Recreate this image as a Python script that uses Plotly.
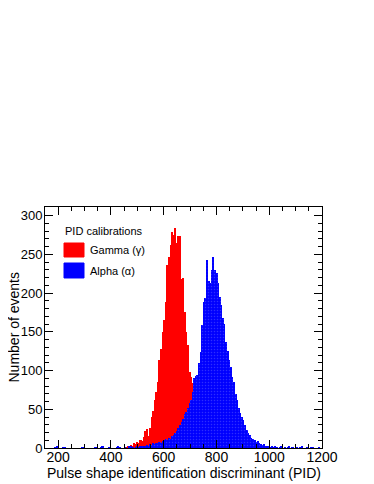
import plotly.graph_objects as go

# histogram binning (PID units)
BIN_WIDTH = 6

# gamma calibration: counts per bin, first bin starts at 456
gamma_start = 456
gamma_counts = [1, 3, 2, 4, 3, 6, 5, 8, 7, 10, 9, 14, 22, 24, 16, 26, 40, 48, 62, 72,
                85, 114, 128, 150, 165, 188, 236, 247, 262, 279, 275, 284, 264, 273, 274,
                218, 220, 176, 150, 133, 98, 92, 84, 80, 40, 30, 20, 14, 9, 6, 3, 2]

# alpha calibration: counts per bin, first bin starts at 186
alpha_start = 186
alpha_counts = [1, 2, 1, 0, 0, 1, 1, 0, 0, 0, 0, 0, 0, 0, 0, 0, 0, 1, 1, 0,
                0, 0, 0, 0, 0, 1, 1, 0, 0, 1, 2, 0, 0, 0, 1, 1, 0, 0, 0, 1,
                2, 1, 0, 0, 1, 0, 0, 2, 3, 1, 0, 1, 2, 1, 2, 3, 2, 3, 4, 3,
                5, 4, 6, 5, 7, 6, 8, 7, 9, 10, 11, 10, 13, 12, 15, 17, 19, 22, 26, 30,
                34, 38, 44, 46, 52, 58, 62, 72, 90, 93, 94, 110, 124, 159, 189, 194, 243, 215, 213, 230,
                247, 230, 226, 213, 195, 185, 168, 160, 137, 125, 114, 105, 92, 85, 70, 62, 52, 45, 40, 36,
                30, 23, 19, 17, 13, 12, 10, 8, 9, 6, 5, 4, 5, 3, 2, 3, 1, 2, 1, 3,
                1, 0, 1, 2, 0, 1, 0, 1, 2, 0, 1, 0, 0, 1, 0, 1, 2, 0, 0, 1,
                0, 0, 1, 1, 0, 0, 0, 1, 0]

x_range = [150, 1200]
y_range = [0, 311]
x_title = "Pulse shape identification discriminant (PID)"
y_title = "Number of events"
legend_title = "PID calibrations"
legend_labels = ["Gamma (\u03b3)", "Alpha (\u03b1)"]
legend_colors = ["#ff0000", "#0000ff"]


def centers(start, n):
    return [start + BIN_WIDTH * (i + 0.5) for i in range(n)]


FONT = "Liberation Sans, Arial, Helvetica, sans-serif"

gamma = go.Bar(
    x=centers(gamma_start, len(gamma_counts)), y=gamma_counts, width=BIN_WIDTH,
    name=legend_labels[0],
    marker=dict(color=legend_colors[0], line=dict(width=0)),
)
alpha = go.Bar(
    x=centers(alpha_start, len(alpha_counts)), y=alpha_counts, width=BIN_WIDTH,
    name=legend_labels[1],
    marker=dict(color=legend_colors[1], line=dict(width=0),
                pattern=dict(shape=".", fgcolor="#5a5aff", fillmode="overlay",
                             size=3, solidity=0.2)),
)

fig = go.Figure(data=[gamma, alpha])

axis_common = dict(
    showline=True, linecolor="black", linewidth=1, mirror="ticks",
    ticks="inside", ticklen=8, tickcolor="black", tickwidth=1,
    showgrid=False, zeroline=False, automargin=False,
)

# the page body adds an 8px margin, so the figure is sized to fit inside it
fig.update_layout(
    width=366, height=476,
    margin=dict(l=37, r=52, t=199, b=36),
    paper_bgcolor="white", plot_bgcolor="white",
    barmode="overlay", bargap=0, showlegend=False,
    font=dict(family=FONT, color="black"),
    xaxis=dict(range=x_range, dtick=200, tick0=0, ticklabelstandoff=-4,
               tickfont=dict(family=FONT, size=14, color="black"),
               minor=dict(dtick=50, ticks="inside", ticklen=4, tickcolor="black"),
               **axis_common),
    yaxis=dict(range=y_range, dtick=50, tick0=0, ticklabelstandoff=-1,
               tickfont=dict(family=FONT, size=13, color="black"),
               minor=dict(dtick=10, ticks="inside", ticklen=4, tickcolor="black"),
               **axis_common),
)

# axis titles, placed like the ROOT canvas
fig.add_annotation(text=x_title, xref="paper", yref="paper", x=0.5, y=0,
                   yshift=-25, xanchor="center", yanchor="middle", showarrow=False,
                   font=dict(size=14))
fig.add_annotation(text=y_title, xref="paper", yref="paper", x=0, y=0.5,
                   xshift=-32, xanchor="center", yanchor="middle", textangle=-90,
                   showarrow=False, font=dict(size=14))

# ROOT-style legend box
fig.add_annotation(text=legend_title, xref="paper", yref="paper",
                   x=0.065, y=0.900, xanchor="left", yanchor="middle",
                   showarrow=False, font=dict(size=11))
swatch_y = [(0.7925, 0.8506), (0.7054, 0.7676)]
for label, color, (y0, y1) in zip(legend_labels, legend_colors, swatch_y):
    fig.add_shape(type="rect", xref="paper", yref="paper",
                  x0=0.0686, x1=0.1408, y0=y0, y1=y1,
                  fillcolor=color, line=dict(color=color, width=1))
    fig.add_annotation(text=label, xref="paper", yref="paper",
                       x=0.1552, y=(y0 + y1) / 2, xanchor="left", yanchor="middle",
                       showarrow=False, font=dict(size=11))

fig.write_html("out.html")
